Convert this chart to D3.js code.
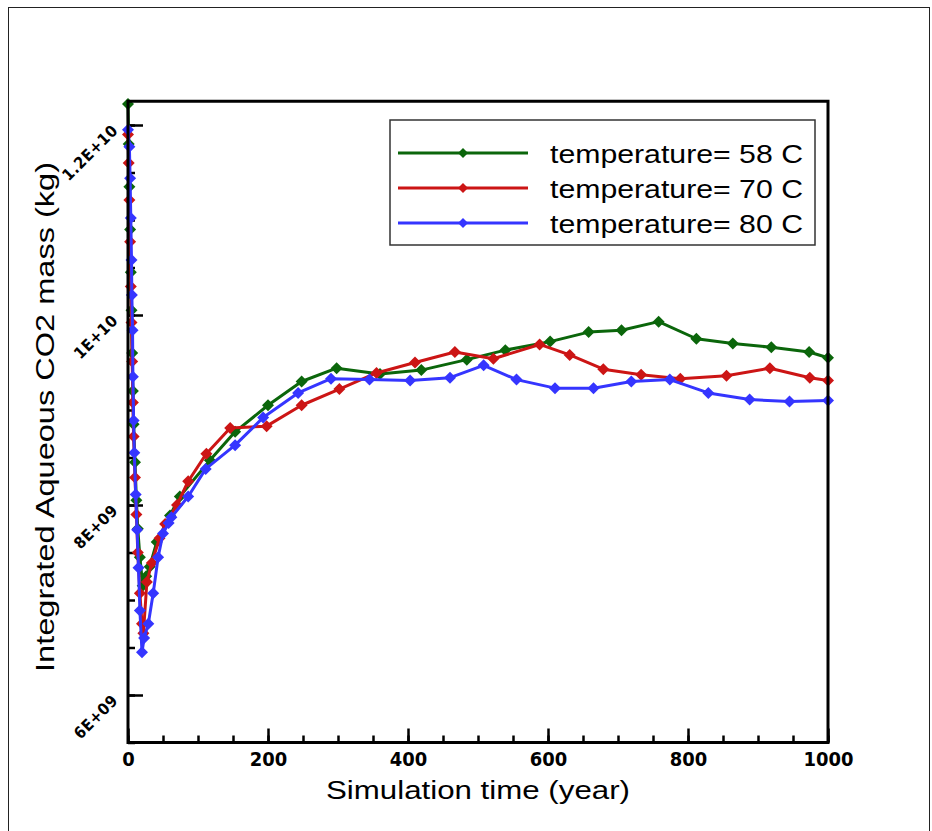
<!DOCTYPE html>
<html>
<head>
	<title>Integrated Aqueous CO2 mass</title>
	<script src="https://d3js.org/d3.v7.min.js"></script>
	<style type="text/css">
		body {
			margin: 0;
			background: #fff;
		}
		svg {
			display: block;
		}
		.tick line {
			stroke: #000;
			stroke-width: 2.5;
		}
		.ticklabel {
			font-family: "Liberation Sans Narrow", "DejaVu Sans Condensed", "Liberation Sans", sans-serif;
			font-weight: bold;
			fill: #000;
		}
		.title, .legend-label {
			font-family: "Liberation Sans", Arial, sans-serif;
			fill: #000;
		}
	</style>
</head>
<body>
<div id="chart"></div>

<script>
	// ---- data (values in units of 1E+09 kg) ----
	var seriesNames = ["temperature= 58 C", "temperature= 70 C", "temperature= 80 C"];
	var seriesColors = ["#0b660b", "#cc1515", "#3535ff"];

	var time58 = [0, 1, 2, 3, 4, 5, 6, 7, 8, 10, 12, 14, 17, 21, 26, 31, 41, 60, 74, 117, 153, 200, 248, 298, 360, 419, 484, 539, 603, 658, 705, 758, 812, 864, 919, 973, 1000];
	var mass58 = [12.22, 11.8, 11.35, 10.9, 10.45, 10.05, 9.6, 9.2, 8.85, 8.45, 8.05, 7.75, 7.45, 7.15, 7.25, 7.35, 7.61, 7.89, 8.09, 8.47, 8.77, 9.05, 9.30, 9.44, 9.38, 9.42, 9.53, 9.63, 9.72, 9.82, 9.84, 9.93, 9.75, 9.70, 9.66, 9.61, 9.55];

	var time70 = [0, 1, 2, 3, 4, 5, 6, 7, 8, 10, 12, 14, 17, 20, 22, 27, 34, 45, 53, 70, 86, 112, 146, 198, 248, 302, 355, 410, 467, 522, 588, 631, 679, 733, 789, 855, 917, 974, 1000];
	var mass70 = [11.9, 11.6, 11.21, 10.77, 10.3, 9.92, 9.51, 9.08, 8.72, 8.29, 7.9, 7.5, 7.07, 6.75, 6.65, 7.19, 7.39, 7.65, 7.8, 8.0, 8.25, 8.54, 8.81, 8.83, 9.05, 9.22, 9.39, 9.50, 9.61, 9.54, 9.69, 9.58, 9.43, 9.37, 9.33, 9.36, 9.44, 9.34, 9.31];

	var time80 = [0, 2, 3, 4, 5, 5.5, 6.5, 7, 8, 9, 11, 13, 15, 17, 20, 23, 29, 36, 43, 50, 58, 62, 86, 111, 153, 193, 243, 290, 345, 403, 460, 508, 555, 610, 665, 719, 774, 829, 888, 945, 1000];
	var mass80 = [11.95, 11.77, 11.44, 11.02, 10.58, 10.21, 9.84, 9.35, 8.89, 8.55, 8.11, 7.74, 7.34, 6.89, 6.45, 6.6, 6.75, 7.07, 7.45, 7.7, 7.81, 7.87, 8.09, 8.38, 8.63, 8.92, 9.18, 9.33, 9.32, 9.31, 9.34, 9.47, 9.32, 9.23, 9.23, 9.30, 9.32, 9.18, 9.11, 9.09, 9.10];

	var xMajorTicks = [0, 200, 400, 600, 800, 1000];
	var yMajorTicks = [6, 8, 10, 12];
	var yTickLabels = ["6E+09", "8E+09", "1E+10", "1.2E+10"];

	var xTitle = "Simulation time (year)";
	var yTitle = "Integrated Aqueous CO2 mass (kg)";

	// ---- layout ----
	var width = 932, height = 831;
	var plot = {left: 128, right: 828, top: 101.25, bottom: 742.5};

	var x = d3.scaleLinear().domain([0, 1000]).range([plot.left, plot.right]);
	var y = d3.scaleLinear().domain([5.5, 12.25]).range([plot.bottom, plot.top]);

	var svg = d3.select("#chart").append("svg")
		.attr("width", width)
		.attr("height", height);

	svg.append("rect")
		.attr("width", width).attr("height", height)
		.attr("fill", "#fff");

	// outer frame of the figure
	svg.append("rect")
		.attr("x", 8.5).attr("y", 7.5)
		.attr("width", 921).attr("height", 830)
		.attr("fill", "none")
		.attr("stroke", "#222")
		.attr("stroke-width", 1);

	// ---- axes (ticks point into the plot) ----
	var xMinor = d3.range(0, 1001, 50);
	svg.append("g")
		.attr("transform", "translate(0," + plot.bottom + ")")
		.call(d3.axisBottom(x).tickValues(xMinor).tickSize(-7).tickFormat(""))
		.call(function(g){ g.select(".domain").remove(); });

	var xAxis = svg.append("g")
		.attr("transform", "translate(0," + plot.bottom + ")")
		.call(d3.axisBottom(x).tickValues(xMajorTicks).tickSize(-14).tickPadding(0).tickFormat(d3.format("d")))
		.call(function(g){ g.select(".domain").remove(); });

	xAxis.selectAll("text")
		.attr("class", "ticklabel")
		.attr("y", 23)
		.attr("dy", 0)
		.style("font-size", "20px")
		.attr("textLength", function(d){ return String(d).length * 12.5; })
		.attr("lengthAdjust", "spacingAndGlyphs");

	var yMinor = d3.range(5.5, 12.26, 0.5);
	svg.append("g")
		.attr("transform", "translate(" + plot.left + ",0)")
		.call(d3.axisLeft(y).tickValues(yMinor).tickSize(-7).tickFormat(""))
		.call(function(g){ g.select(".domain").remove(); });

	var yAxis = svg.append("g")
		.attr("transform", "translate(" + plot.left + ",0)")
		.call(d3.axisLeft(y).tickValues(yMajorTicks).tickSize(-15)
			.tickFormat(function(d, i){ return yTickLabels[i]; }))
		.call(function(g){ g.select(".domain").remove(); });

	yAxis.selectAll("text")
		.attr("class", "ticklabel")
		.attr("x", 0)
		.attr("dy", 0)
		.attr("text-anchor", "end")
		.attr("transform", "translate(-9,6) rotate(-45)")
		.style("font-size", "16px")
		.style("letter-spacing", "0.5px");

	// ---- series ----
	var series = [
		{name: seriesNames[0], color: seriesColors[0], t: time58, v: mass58},
		{name: seriesNames[1], color: seriesColors[1], t: time70, v: mass70},
		{name: seriesNames[2], color: seriesColors[2], t: time80, v: mass80}
	];

	var line = d3.line()
		.x(function(d){ return x(d[0]); })
		.y(function(d){ return y(d[1]); });

	var diamond = function(r){
		return "M0," + (-r) + "L" + r + ",0L0," + r + "L" + (-r) + ",0Z";
	};

	var plotArea = svg.append("g");

	series.forEach(function(s){
		var pts = s.t.map(function(t, i){ return [t, s.v[i]]; });
		var g = plotArea.append("g");
		g.append("path")
			.datum(pts)
			.attr("d", line)
			.attr("fill", "none")
			.attr("stroke", s.color)
			.attr("stroke-width", 3)
			.attr("stroke-linejoin", "round");
		g.selectAll(".marker")
			.data(pts)
			.enter()
			.append("path")
			.attr("class", "marker")
			.attr("d", diamond(6))
			.attr("transform", function(d){ return "translate(" + x(d[0]) + "," + y(d[1]) + ")"; })
			.attr("fill", s.color);
	});

	// plot frame
	svg.append("rect")
		.attr("x", plot.left).attr("y", plot.top)
		.attr("width", plot.right - plot.left)
		.attr("height", plot.bottom - plot.top)
		.attr("fill", "none")
		.attr("stroke", "#000")
		.attr("stroke-width", 3);

	// ---- legend ----
	var legend = svg.append("g");
	legend.append("rect")
		.attr("x", 390).attr("y", 120)
		.attr("width", 425).attr("height", 125)
		.attr("fill", "#fff")
		.attr("stroke", "#333")
		.attr("stroke-width", 1.5);

	series.forEach(function(s, i){
		var ly = 153 + i * 35;
		legend.append("line")
			.attr("x1", 398).attr("x2", 528)
			.attr("y1", ly).attr("y2", ly)
			.attr("stroke", s.color)
			.attr("stroke-width", 3);
		legend.append("path")
			.attr("d", diamond(5))
			.attr("transform", "translate(463," + ly + ")")
			.attr("fill", s.color);
		legend.append("text")
			.attr("class", "legend-label")
			.attr("x", 550).attr("y", ly + 10)
			.style("font-size", "25px")
			.attr("textLength", 253)
			.attr("lengthAdjust", "spacingAndGlyphs")
			.text(s.name);
	});

	// ---- titles ----
	svg.append("text")
		.attr("class", "title")
		.attr("x", 478).attr("y", 799)
		.attr("text-anchor", "middle")
		.style("font-size", "25px")
		.attr("textLength", 304)
		.attr("lengthAdjust", "spacingAndGlyphs")
		.text(xTitle);

	svg.append("text")
		.attr("class", "title")
		.attr("transform", "translate(54,417) rotate(-90)")
		.attr("text-anchor", "middle")
		.style("font-size", "25px")
		.attr("textLength", 510)
		.attr("lengthAdjust", "spacingAndGlyphs")
		.text(yTitle);
</script>
</body>
</html>
